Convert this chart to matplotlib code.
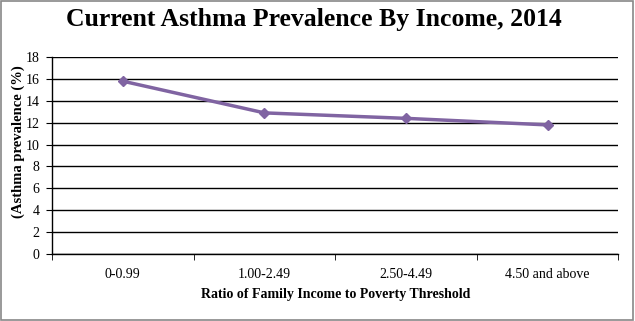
import matplotlib
matplotlib.use("Agg")
import matplotlib.pyplot as plt
from matplotlib.patches import Rectangle

# Data
categories = ["0-0.99", "1.00-2.49", "2.50-4.49", "4.50 and above"]
prevalence = [15.8, 12.9, 12.4, 11.8]
y_ticks = [0, 2, 4, 6, 8, 10, 12, 14, 16, 18]

fig = plt.figure(figsize=(6.35, 3.21), dpi=100)
ax = fig.add_axes([0.082, 0.209, 0.892, 0.613])

xs = list(range(len(categories)))
ax.plot(xs, prevalence, color="#8064A2", linewidth=2.5, marker="D",
        markersize=5, zorder=3)

ax.set_xlim(-0.5, len(categories) - 0.5)
ax.set_ylim(0, 18)
ax.set_yticks(y_ticks)
ax.set_xticks(xs)
ax.set_xticklabels(categories, family="Liberation Serif", fontsize=10)
for lbl in ax.get_yticklabels():
    lbl.set_family("Liberation Serif")
    lbl.set_fontsize(10)

# category boundary ticks
ax.set_xticks([i - 0.5 for i in range(len(categories) + 1)], minor=True)
ax.tick_params(axis="x", which="major", length=0, pad=10)
ax.tick_params(axis="x", which="minor", length=4, direction="out")
ax.tick_params(axis="y", length=4, direction="out", pad=5)

ax.grid(axis="y", color="black", linewidth=1)
ax.set_axisbelow(True)
for side in ["top", "right"]:
    ax.spines[side].set_visible(False)
ax.spines["left"].set_linewidth(1)
ax.spines["bottom"].set_linewidth(1)

ax.set_xlabel("Ratio of Family Income to Poverty Threshold",
              family="Liberation Serif", fontweight="bold", fontsize=10, labelpad=5)
ax.set_ylabel("(Asthma prevalence (%)", family="Liberation Serif",
              fontweight="bold", fontsize=10.5)
ax.yaxis.set_label_coords(-0.048, 0.57)

fig.suptitle("Current Asthma Prevalence By Income, 2014", x=0.494, y=0.975,
             family="Liberation Serif", fontweight="bold", fontsize=18.5)

fig.patches.append(Rectangle((0.002, 0.003), 0.995, 0.993, transform=fig.transFigure,
                             fill=False, edgecolor="#888888", linewidth=1.2))

fig.savefig("out.png", dpi=100)
